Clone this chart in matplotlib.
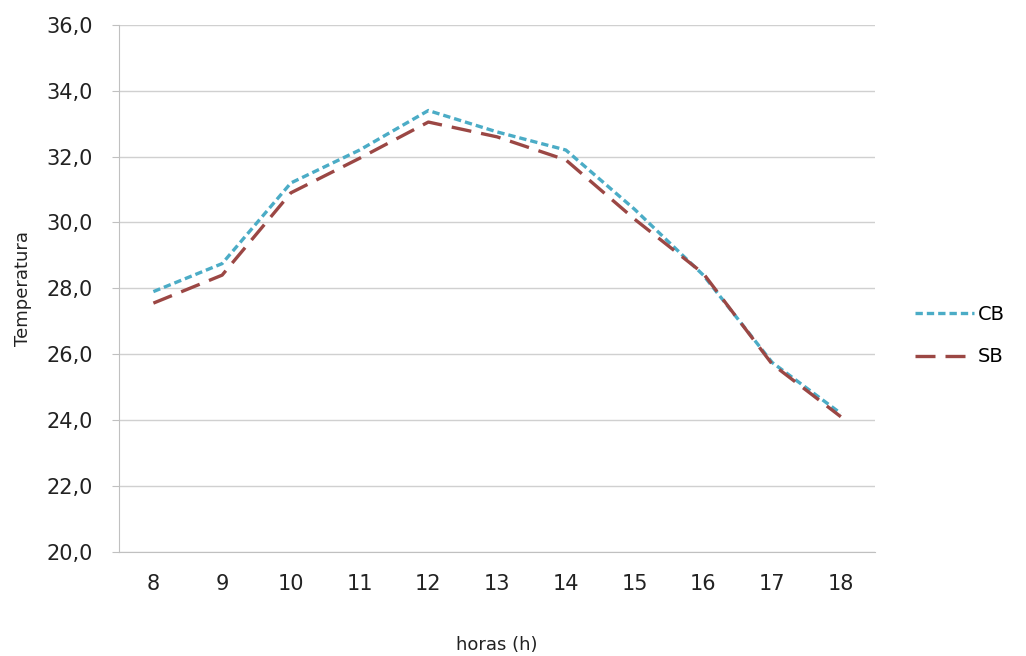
import matplotlib
matplotlib.use("Agg")
import matplotlib.pyplot as plt
import numpy as np

horas = [8, 9, 10, 11, 12, 13, 14, 15, 16, 17, 18]
cb = [27.9, 28.75, 31.2, 32.2, 33.4, 32.75, 32.2, 30.4, 28.4, 25.75, 24.2]
sb = [27.55, 28.4, 30.9, 31.95, 33.05, 32.6, 31.9, 30.1, 28.45, 25.7, 24.1]
yticks = [20, 22, 24, 26, 28, 30, 32, 34, 36]

fig = plt.figure(figsize=(10.26, 6.56), dpi=100)
ax = fig.add_axes([0.116, 0.159, 0.737, 0.803])

x = np.arange(len(horas))
ax.plot(x, cb, color="#4BACC6", lw=2.4, linestyle=(0, (2.2, 1.2)), label="CB")
ax.plot(x, sb, color="#9B4744", lw=2.4, linestyle=(0, (6, 3)), label="SB")

ax.set_xlim(-0.5, len(horas) - 0.5)
ax.set_ylim(20, 36)
ax.set_xticks(x)
ax.set_xticklabels([str(h) for h in horas])
ax.set_yticks(yticks)
ax.yaxis.set_major_formatter(matplotlib.ticker.FuncFormatter(lambda v, p: ("%.1f" % v).replace(".", ",")))

ax.grid(axis="y", color="#D0D0D0", lw=1)
ax.set_axisbelow(True)
for s in ["top", "right"]:
    ax.spines[s].set_visible(False)
for s in ["left", "bottom"]:
    ax.spines[s].set_color("#C0C0C0")
ax.tick_params(axis="x", length=0, pad=16, labelsize=15, colors="#222222")
ax.tick_params(axis="y", length=5, color="#C0C0C0", pad=14, labelsize=15, labelcolor="#222222")

ax.set_xlabel("horas (h)", fontsize=13, labelpad=30, color="#222222")
ax.set_ylabel("Temperatura", fontsize=13, labelpad=10, color="#222222")

ax.legend(loc="center left", bbox_to_anchor=(1.03, 0.41), frameon=False,
          fontsize=14, handlelength=3.0, labelspacing=1.2, handletextpad=0.2)

fig.savefig("out.png", dpi=100)
